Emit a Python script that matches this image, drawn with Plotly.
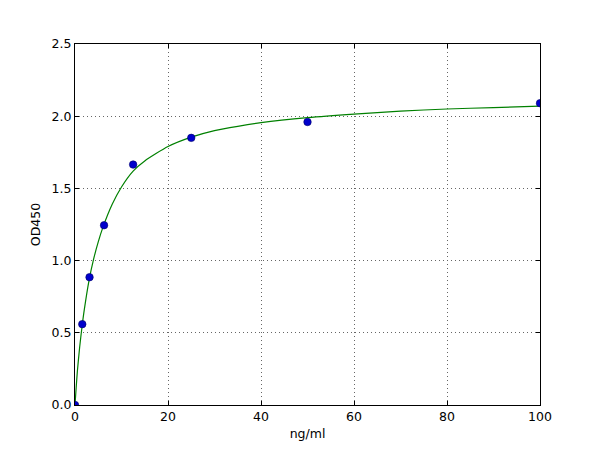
import plotly.graph_objects as go

# Measured standards
conc = [0, 1.5625, 3.125, 6.25, 12.5, 25, 50, 100]
od450 = [0.0, 0.56, 0.885, 1.245, 1.665, 1.85, 1.96, 2.09]

# Fitted curve
curve_x = [0, 0.25, 0.5, 1.0, 1.5, 2, 3, 4, 5, 6, 8, 10, 12.5, 15, 20, 25, 30, 35, 40, 50, 60, 70, 80, 90, 100]
curve_y = [0.0, 0.12, 0.23, 0.40, 0.54, 0.66, 0.86, 1.01, 1.13, 1.23, 1.39, 1.51, 1.62, 1.69, 1.79, 1.855, 1.90, 1.93, 1.955, 1.99, 2.015, 2.035, 2.05, 2.06, 2.07]

x_ticks = [0, 20, 40, 60, 80, 100]
y_ticks = [0.0, 0.5, 1.0, 1.5, 2.0, 2.5]

fig = go.Figure()
fig.add_trace(go.Scatter(x=curve_x, y=curve_y, mode="lines",
                         line=dict(color="#008000", width=1.2, shape="spline", smoothing=0.6),
                         hoverinfo="skip", showlegend=False))
fig.add_trace(go.Scatter(x=conc, y=od450, mode="markers",
                         marker=dict(color="#0000cc", size=7.5, line=dict(color="#000066", width=0.6)),
                         cliponaxis=True, showlegend=False))

axis_common = dict(
    showline=True, linecolor="black", linewidth=1, mirror="ticks",
    ticks="inside", ticklen=4, tickcolor="black", tickwidth=1,
    showgrid=True, gridcolor="#666666", gridwidth=1, griddash="1px,3px",
    zeroline=False,
    tickfont=dict(family="DejaVu Sans", size=12.5, color="black"),
    title_font=dict(family="DejaVu Sans", size=12.5, color="black"),
)

fig.update_xaxes(range=[0, 100], tickvals=x_ticks, ticktext=[str(v) for v in x_ticks],
                 title_text="ng/ml", title_standoff=6, **axis_common)
fig.update_yaxes(range=[0, 2.5], tickvals=y_ticks, ticktext=[f"{v:.1f}" for v in y_ticks],
                 title_text="OD450", title_standoff=8, **axis_common)

fig.update_layout(
    width=600, height=450,
    margin=dict(l=67, r=68, t=36, b=53, pad=0),
    paper_bgcolor="white", plot_bgcolor="white",
    font=dict(family="DejaVu Sans", size=12.5, color="black"),
)

fig.write_html("out.html")
